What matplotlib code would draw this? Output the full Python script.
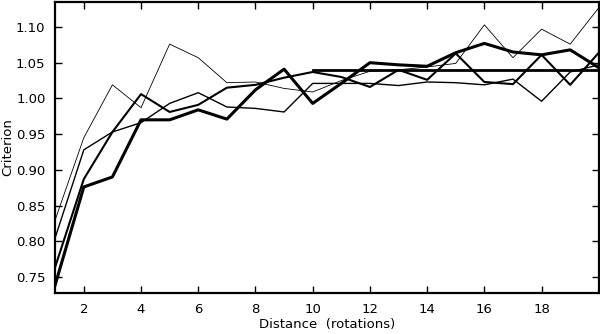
import matplotlib
matplotlib.use("Agg")
import matplotlib.pyplot as plt
import numpy as np

distance = list(range(1, 21))
s_thinnest = [0.830, 0.945, 1.019, 0.987, 1.076, 1.057, 1.022, 1.023, 1.014, 1.009,
              1.025, 1.038, 1.040, 1.044, 1.049, 1.103, 1.057, 1.097, 1.076, 1.127]
s_thin = [0.805, 0.928, 0.953, 0.966, 0.993, 1.008, 0.988, 0.986, 0.981, 1.021,
          1.021, 1.021, 1.018, 1.023, 1.022, 1.019, 1.027, 0.996, 1.037, 1.047]
s_medium = [0.764, 0.887, 0.953, 1.006, 0.981, 0.991, 1.015, 1.019, 1.029, 1.037,
            1.030, 1.016, 1.040, 1.026, 1.063, 1.023, 1.020, 1.061, 1.019, 1.064]
s_thick = [0.739, 0.876, 0.890, 0.970, 0.970, 0.984, 0.971, 1.012, 1.041, 0.993,
           1.021, 1.050, 1.047, 1.045, 1.064, 1.077, 1.065, 1.061, 1.068, 1.043]
ref_x = [10, 20]
ref_y = [1.040, 1.040]

xticks = [2, 4, 6, 8, 10, 12, 14, 16, 18]
yticks = [0.75, 0.80, 0.85, 0.90, 0.95, 1.00, 1.05, 1.10]

fig = plt.figure(figsize=(6.0, 3.34), dpi=100)
ax = fig.add_axes([0.092, 0.123, 0.906, 0.871])

ax.plot(distance, s_thinnest, color="black", lw=0.6)
ax.plot(distance, s_thin, color="black", lw=1.0)
ax.plot(distance, s_medium, color="black", lw=1.5)
ax.plot(distance, s_thick, color="black", lw=2.2)
ax.plot(ref_x, ref_y, color="black", lw=2.0)

ax.set_xlim(1, 20)
ax.set_ylim(0.7276, 1.135)
ax.set_xticks(xticks)
ax.set_yticks(yticks)
ax.set_yticklabels([f"{v:.2f}" for v in yticks])
ax.tick_params(direction="in", top=True, right=True, length=5, width=1,
               labelsize=9.5, pad=7)
for sp in ax.spines.values():
    sp.set_linewidth(1.6)

fig.text(0.545, 0.027, "Distance  (rotations)", fontsize=9.5,
         ha="center", va="center")
fig.text(0.013, 0.56, "Criterion", fontsize=9.5, rotation=90,
         ha="center", va="center")

fig.savefig("out.png", dpi=100)
